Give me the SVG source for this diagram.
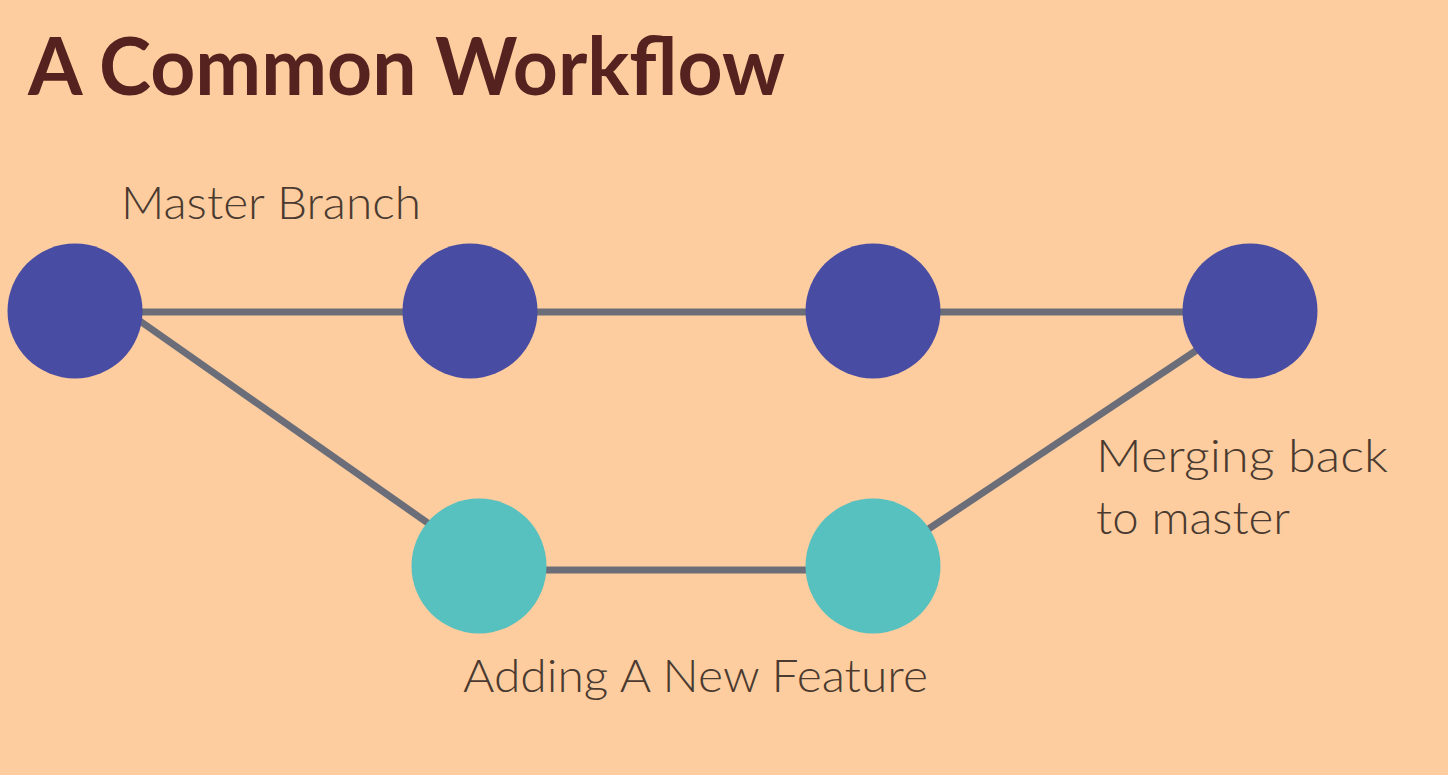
<svg xmlns="http://www.w3.org/2000/svg" width="1448" height="775" viewBox="0 0 1448 775">
  <style>
    .title { font-family: "Lato", "Liberation Sans", sans-serif; font-weight: 700; font-size: 80px; fill: #55221f; }
    .label { font-family: "Lato", "Liberation Sans", sans-serif; font-weight: 300; font-size: 45px; fill: #4a3a30; }
    .edge { stroke: #6b6e78; stroke-width: 7; fill: none; }
    .master { fill: #484ca3; }
    .feature { fill: #56c1bf; }
  </style>
  <rect width="1448" height="775" fill="#fdcd9f"/>

  <text class="title" x="28" y="95" textLength="757" lengthAdjust="spacingAndGlyphs">A Common Workflow</text>

  <g id="connectors">
    <line class="edge" x1="75" y1="312" x2="1250" y2="312"/>
    <line class="edge" x1="479" y1="570" x2="873" y2="570"/>
    <line class="edge" x1="120" y1="307" x2="452" y2="540"/>
    <line class="edge" x1="900" y1="548" x2="1230" y2="328"/>
  </g>

  <g id="master-1"><circle class="master" cx="75" cy="311" r="67.5"/></g>
  <g id="master-2"><circle class="master" cx="470" cy="311" r="67.5"/></g>
  <g id="master-3"><circle class="master" cx="873" cy="311" r="67.5"/></g>
  <g id="master-4"><circle class="master" cx="1250" cy="311" r="67.5"/></g>
  <g id="feature-1"><circle class="feature" cx="479" cy="566" r="67.5"/></g>
  <g id="feature-2"><circle class="feature" cx="873" cy="566" r="67.5"/></g>

  <g id="label-master">
    <text class="label" x="121" y="219" textLength="300" lengthAdjust="spacingAndGlyphs">Master Branch</text>
  </g>
  <g id="label-merge">
    <text class="label" x="1096" y="472" textLength="292" lengthAdjust="spacingAndGlyphs">Merging back</text>
    <text class="label" x="1096" y="534" textLength="194" lengthAdjust="spacingAndGlyphs">to master</text>
  </g>
  <g id="label-feature">
    <text class="label" x="463" y="692" textLength="465" lengthAdjust="spacingAndGlyphs">Adding A New Feature</text>
  </g>
</svg>
